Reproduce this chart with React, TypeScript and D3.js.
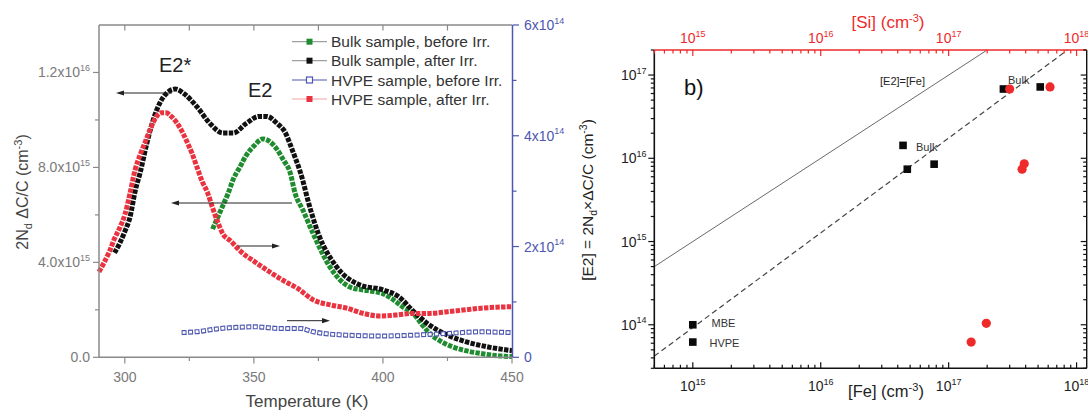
import React from 'react';
import * as d3 from 'd3';

// ---------- Panel a) data (temperature in K, values in units shown) ----------
const tBulkBefore = [334, 336, 338, 340, 342, 344.5, 347, 350, 353.5, 356, 359, 361.5, 364, 366, 369, 373, 379.5, 387, 392, 396, 400, 403, 408, 412, 415, 418, 422, 427, 432, 438, 444, 450];
const vBulkBefore = [5.4, 5.9, 6.4, 6.9, 7.5, 8.0, 8.5, 8.9, 9.2, 9.1, 8.75, 8.3, 7.8, 6.9, 6.2, 5.2, 3.8, 2.97, 2.84, 2.78, 2.68, 2.5, 2.1, 1.82, 1.4, 1.02, 0.7, 0.44, 0.28, 0.16, 0.07, 0.03]; // x1e15

const tBulkAfter = [296, 298, 300, 302, 304, 306, 308.5, 311, 313.5, 316, 319.5, 323, 328, 333, 338, 342, 347, 352, 355, 359, 362, 365, 368, 372, 375, 382, 391, 400, 406, 412, 418, 425, 432, 440, 450];
const vBulkAfter = [4.4, 4.8, 5.3, 5.9, 7.0, 7.8, 9.0, 10.0, 10.7, 11.1, 11.3, 11.1, 10.55, 9.85, 9.45, 9.45, 9.85, 10.15, 10.15, 9.85, 9.5, 8.7, 7.8, 6.2, 5.2, 3.82, 3.05, 2.84, 2.56, 1.92, 1.36, 0.94, 0.66, 0.45, 0.28]; // x1e15

const tHvpeBefore = [322, 328, 337, 351, 360, 368, 373, 386, 399, 412, 425, 437.6, 450];
const vHvpeBefore = [0.445, 0.463, 0.52, 0.55, 0.52, 0.52, 0.46, 0.40, 0.385, 0.40, 0.43, 0.46, 0.445]; // x1e14 (right axis)

const tHvpeAfter = [290, 292, 294, 296, 298, 300, 302, 304, 306, 308, 310, 312, 314, 316, 318, 320, 322, 324, 326, 328, 330, 332, 334, 336, 338, 341, 345, 350, 355, 361, 367, 373, 380, 386, 392, 399, 405, 412, 418, 425, 431, 438, 444, 450];
const vHvpeAfter = [3.6, 4.0, 4.45, 5.0, 5.45, 6.0, 6.9, 7.9, 8.55, 9.1, 9.65, 10.1, 10.3, 10.3, 10.15, 9.9, 9.55, 9.1, 8.6, 8.0, 7.4, 6.95, 6.3, 5.7, 5.2, 4.9, 4.45, 4.05, 3.68, 3.26, 2.9, 2.42, 2.2, 2.07, 1.86, 1.74, 1.78, 1.85, 1.85, 1.92, 1.99, 2.07, 2.11, 2.13]; // x1e15

const legendLabels = ['Bulk sample, before Irr.', 'Bulk sample, after Irr.', 'HVPE sample, before Irr.', 'HVPE sample, after Irr.'];

const xTicksA = [300, 350, 400, 450];
const xMinorA = [325, 375, 425];
const xTopTicksA = [300, 325, 350, 375, 400, 425];
const yTicksA = [0, 4e15, 8e15, 1.2e16];
const yTickLabelsA: [string, string][] = [['0.0', ''], ['4.0x10', '15'], ['8.0x10', '15'], ['1.2x10', '16']];
const yMinorA = [2e15, 6e15, 1e16];
const yRTicksA = [0, 2e14, 4e14, 6e14];
const yRTickLabelsA: [string, string][] = [['0', ''], ['2x10', '14'], ['4x10', '14'], ['6x10', '14']];
const yRMinorA = [1e14, 3e14, 5e14];

// ---------- Panel b) data ----------
const sqFe = [1e15, 1e15, 4.4e16, 4.75e16, 7.7e16, 2.68e17, 5.2e17];
const sqE2 = [1e14, 6.2e13, 1.43e16, 7.4e15, 8.5e15, 6.8e16, 7.2e16];
const ciSi = [3.0e17, 6.2e17, 3.9e17, 3.75e17, 1.97e17, 1.5e17];
const ciE2 = [6.8e16, 7.2e16, 8.6e15, 7.4e15, 1.04e14, 6.2e13];
const identityLine = [[5e14, 5e14], [2e17, 2e17]];
const fitLine = [[5e14, 4.2e13], [8.5e17, 2e17]];
const decadesX = [15, 16, 17, 18];
const decadesY = [14, 15, 16, 17];

const FONT = 'Liberation Sans, Arial, Helvetica, sans-serif';
const GRAY_AX = '#8a8a8a';
const GRAY_TXT = '#7a7a7a';
const BLUE = '#4d57b0';
const GREEN = '#1f8c2f';
const RED = '#ea3340';
const SIRED = '#ee2a2a';

function Arrow({ x1, x2, y, color = '#222' }: { x1: number; x2: number; y: number; color?: string }) {
  const dir = x2 > x1 ? 1 : -1;
  return (
    <g>
      <line x1={x1} y1={y} x2={x2 - dir * 6} y2={y} stroke={color} strokeWidth={1} />
      <path d={`M${x2},${y} L${x2 - dir * 8},${y - 2.6} L${x2 - dir * 8},${y + 2.6} Z`} fill={color} />
    </g>
  );
}

export default function App() {
  // Panel a scales
  const xL = d3.scaleLinear().domain([290, 450]).range([99, 512]);
  const yL = d3.scaleLinear().domain([0, 1.4e16]).range([357.3, 25]);
  const yR = d3.scaleLinear().domain([0, 6e14]).range([357.3, 25]);

  const mk = (ts: number[], vs: number[], unit: number, ys: d3.ScaleLinear<number, number>) =>
    d3
      .line<number>()
      .x((_, i) => xL(ts[i]))
      .y((v) => ys(v * unit))
      .curve(d3.curveMonotoneX)(vs) as string;

  const pGreen = mk(tBulkBefore, vBulkBefore, 1e15, yL);
  const pBlack = mk(tBulkAfter, vBulkAfter, 1e15, yL);
  const pBlue = mk(tHvpeBefore, vHvpeBefore, 1e14, yR);
  const pRed = mk(tHvpeAfter, vHvpeAfter, 1e15, yL);

  // Panel b scales
  const xB = d3.scaleLog().domain([5e14, 1.2e18]).range([654.3, 1086.7]);
  const yB = d3.scaleLog().domain([3e13, 2e17]).range([368.3, 50]);
  const bL = 654.3, bR = 1086.7, bT = 50, bB = 368.3;

  const minorX: number[] = [];
  decadesX.forEach((d) => {
    for (let m = 1; m <= 9; m++) {
      const v = m * Math.pow(10, d - 1);
      if (v >= 5e14 && v <= 1.2e18) minorX.push(v);
    }
  });
  const mX = minorX.concat([1e18]);
  const minorY: number[] = [];
  [13, 14, 15, 16, 17].forEach((d) => {
    for (let m = 1; m <= 9; m++) {
      const v = m * Math.pow(10, d);
      if (v >= 3e13 && v <= 2e17) minorY.push(v);
    }
  });
  const isMajor = (v: number) => Math.abs(Math.log10(v) - Math.round(Math.log10(v))) < 1e-6;

  const lineLog = d3
    .line<number[]>()
    .x((d) => xB(d[0]))
    .y((d) => yB(d[1]));

  const legendY = [41.7, 60.7, 80, 99];
  const legendLineColors = ['#a0a0a0', '#a0a0a0', BLUE, '#f5a3a6'];

  return (
    <svg width={1088} height={410} style={{ position: 'absolute', left: 0, top: 0, background: '#fff' }} fontFamily={FONT}>
      <rect x={0} y={0} width={1088} height={410} fill="#fff" />

      {/* ================= Panel a ================= */}
      <g>
        {/* series */}
        <path d={pGreen} fill="none" stroke={GREEN} strokeWidth={5} strokeDasharray="4.4 1.3" />
        <path d={pBlack} fill="none" stroke="#111" strokeWidth={5} strokeDasharray="4.4 1.3" />
        <path d={pBlue} fill="none" stroke={BLUE} strokeWidth={5} strokeDasharray="5 1.5" />
        <path d={pBlue} fill="none" stroke="#fff" strokeWidth={2.6} strokeDasharray="3 3.5" strokeDashoffset={-1} />
        <path d={pRed} fill="none" stroke={RED} strokeWidth={5} strokeDasharray="4.4 1.3" />

        {/* axes */}
        <line x1={99} y1={357.3} x2={512} y2={357.3} stroke={GRAY_AX} strokeWidth={1.5} />
        <line x1={99} y1={25} x2={512} y2={25} stroke={GRAY_AX} strokeWidth={1.5} />
        <line x1={99} y1={25} x2={99} y2={357.3} stroke={GRAY_AX} strokeWidth={1.5} />
        <line x1={512.5} y1={25} x2={512.5} y2={357.3} stroke={BLUE} strokeWidth={1.5} />

        {xTicksA.map((t) => (
          <g key={'xa' + t}>
            <line x1={xL(t)} x2={xL(t)} y1={357.3} y2={363.5} stroke={GRAY_AX} strokeWidth={1.2} />
            <text x={xL(t)} y={381.5} textAnchor="middle" fontSize={14} fill={GRAY_TXT}>{t}</text>
          </g>
        ))}
        {xMinorA.map((t) => (
          <line key={'xm' + t} x1={xL(t)} x2={xL(t)} y1={357.3} y2={361} stroke={GRAY_AX} strokeWidth={1.2} />
        ))}
        {xTopTicksA.map((t) => (
          <line key={'xt' + t} x1={xL(t)} x2={xL(t)} y1={25} y2={30.5} stroke={GRAY_AX} strokeWidth={1.2} />
        ))}
        {yTicksA.map((v, i) => (
          <g key={'ya' + v}>
            <line x1={93} x2={99} y1={yL(v)} y2={yL(v)} stroke={GRAY_AX} strokeWidth={1.2} />
            <text x={90} y={yL(v) + 5} textAnchor="end" fontSize={14} fill={GRAY_TXT}>
              {yTickLabelsA[i][0]}
              {yTickLabelsA[i][1] && (
                <tspan fontSize={9} dy={-6.5}>{yTickLabelsA[i][1]}</tspan>
              )}
            </text>
          </g>
        ))}
        {yMinorA.map((v) => (
          <line key={'ym' + v} x1={95} x2={99} y1={yL(v)} y2={yL(v)} stroke={GRAY_AX} strokeWidth={1.2} />
        ))}
        {yRTicksA.map((v, i) => (
          <g key={'yr' + v}>
            <line x1={512.5} x2={519} y1={yR(v)} y2={yR(v)} stroke={BLUE} strokeWidth={1.2} />
            <text x={524} y={yR(v) + 5} textAnchor="start" fontSize={14} fill={BLUE}>
              {yRTickLabelsA[i][0]}
              {yRTickLabelsA[i][1] && (
                <tspan fontSize={9} dy={-6.5}>{yRTickLabelsA[i][1]}</tspan>
              )}
            </text>
          </g>
        ))}
        {yRMinorA.map((v) => (
          <line key={'yrm' + v} x1={512.5} x2={516.5} y1={yR(v)} y2={yR(v)} stroke={BLUE} strokeWidth={1.2} />
        ))}

        {/* axis titles */}
        <text x={307} y={407} textAnchor="middle" fontSize={17} fill="#444">Temperature (K)</text>
        <text transform="translate(28,192) rotate(-90)" textAnchor="middle" fontSize={16} fill="#444">
          2N<tspan fontSize={11} dy={4}>d</tspan>
          <tspan dy={-4}> ΔC/C (cm</tspan>
          <tspan fontSize={11} dy={-6}>-3</tspan>
          <tspan dy={6}>)</tspan>
        </text>

        {/* annotations */}
        <text x={159} y={72} fontSize={20} fill="#222">E2*</text>
        <text x={248} y={97} fontSize={20} fill="#222">E2</text>
        <Arrow x1={172} x2={116} y={93} />
        <Arrow x1={292} x2={171} y={203} />
        <Arrow x1={238} x2={280} y={246} />
        <Arrow x1={287} x2={330} y={320.7} />

        {/* legend */}
        {legendLabels.map((lab, i) => (
          <g key={lab}>
            <line x1={292} x2={327} y1={legendY[i]} y2={legendY[i]} stroke={legendLineColors[i]} strokeWidth={1.2} />
            {i === 2 ? (
              <rect x={306.5} y={legendY[i] - 3} width={6} height={6} fill="#fff" stroke={BLUE} strokeWidth={1.2} />
            ) : (
              <rect x={306.5} y={legendY[i] - 3} width={6} height={6} fill={i === 0 ? GREEN : i === 1 ? '#111' : RED} />
            )}
            <text x={331} y={legendY[i] + 5.5} fontSize={15.5} fill="#333">{lab}</text>
          </g>
        ))}
      </g>

      {/* ================= Panel b ================= */}
      <g>
        <defs>
          <clipPath id="clipB">
            <rect x={bL} y={bT} width={bR - bL} height={bB - bT} />
          </clipPath>
        </defs>
        <g clipPath="url(#clipB)">
          <path d={lineLog(identityLine) as string} stroke="#6a6a6a" strokeWidth={1} fill="none" />
          <path d={lineLog(fitLine) as string} stroke="#444" strokeWidth={1.2} strokeDasharray="5.5 3.5" fill="none" />
        </g>

        {sqFe.map((x, i) => (
          <rect key={'sq' + i} x={xB(x) - 3.8} y={yB(sqE2[i]) - 3.8} width={7.6} height={7.6} fill="#0a0a0a" />
        ))}
        {ciSi.map((x, i) => (
          <circle key={'ci' + i} cx={xB(x)} cy={yB(ciE2[i])} r={4.6} fill={SIRED} />
        ))}

        {/* axes */}
        <line x1={bL} y1={bB} x2={bR} y2={bB} stroke="#111" strokeWidth={1.6} />
        <line x1={bL} y1={bT} x2={bL} y2={bB} stroke="#111" strokeWidth={1.6} />
        <line x1={bR} y1={bT} x2={bR} y2={bB} stroke="#111" strokeWidth={1.4} />
        <line x1={bL} y1={bT} x2={bR} y2={bT} stroke={SIRED} strokeWidth={1.6} />

        {mX.map((v) => {
          const maj = isMajor(v);
          return (
            <g key={'bx' + v}>
              <line x1={xB(v)} x2={xB(v)} y1={bB} y2={bB - (maj ? 6 : 3.5)} stroke="#111" strokeWidth={1.2} />
              <line x1={xB(v)} x2={xB(v)} y1={bT} y2={bT + (maj ? 6 : 3.5)} stroke={SIRED} strokeWidth={1.2} />
            </g>
          );
        })}
        {minorY.map((v) => {
          const maj = isMajor(v);
          return (
            <g key={'by' + v}>
              <line x1={bL} x2={bL - (maj ? 6 : 3.5)} y1={yB(v)} y2={yB(v)} stroke="#111" strokeWidth={1.2} />
              <line x1={bR} x2={bR - (maj ? 6 : 3.5)} y1={yB(v)} y2={yB(v)} stroke="#111" strokeWidth={1.2} />
            </g>
          );
        })}
        {decadesX.map((d) => (
          <g key={'lx' + d}>
            <text x={xB(Math.pow(10, d))} y={391} textAnchor="middle" fontSize={14} fill="#222">
              10<tspan fontSize={9} dy={-6.5}>{d}</tspan>
            </text>
            <text x={xB(Math.pow(10, d))} y={43} textAnchor="middle" fontSize={14} fill={SIRED}>
              10<tspan fontSize={9} dy={-6.5}>{d}</tspan>
            </text>
          </g>
        ))}
        {decadesY.map((d) => (
          <text key={'ly' + d} x={646.5} y={yB(Math.pow(10, d)) + 5} textAnchor="end" fontSize={14} fill="#222">
            10<tspan fontSize={9} dy={-6.5}>{d}</tspan>
          </text>
        ))}

        {/* titles */}
        <text x={886} y={397} textAnchor="middle" fontSize={16.5} fill="#222">
          [Fe] (cm<tspan fontSize={11} dy={-6}>-3</tspan><tspan dy={6}>)</tspan>
        </text>
        <text x={888} y={28} textAnchor="middle" fontSize={17} fill={SIRED}>
          [Si] (cm<tspan fontSize={11} dy={-6}>-3</tspan><tspan dy={6}>)</tspan>
        </text>
        <text transform="translate(593,200) rotate(-90)" textAnchor="middle" fontSize={15.5} fill="#222">
          [E2] = 2N<tspan fontSize={10.5} dy={4}>d</tspan>
          <tspan dy={-4}>×ΔC/C (cm</tspan>
          <tspan fontSize={10.5} dy={-6}>-3</tspan>
          <tspan dy={6}>)</tspan>
        </text>

        <text x={684} y={95} fontSize={22} fill="#111">b)</text>
        <text x={880} y={85} fontSize={11} fill="#222">[E2]=[Fe]</text>
        <text x={1008} y={84} fontSize={11} fill="#333">Bulk</text>
        <text x={916} y={151} fontSize={11} fill="#333">Bulk</text>
        <text x={711.5} y={327} fontSize={11} fill="#333">MBE</text>
        <text x={709.5} y={346.5} fontSize={11} fill="#333">HVPE</text>
      </g>
    </svg>
  );
}
